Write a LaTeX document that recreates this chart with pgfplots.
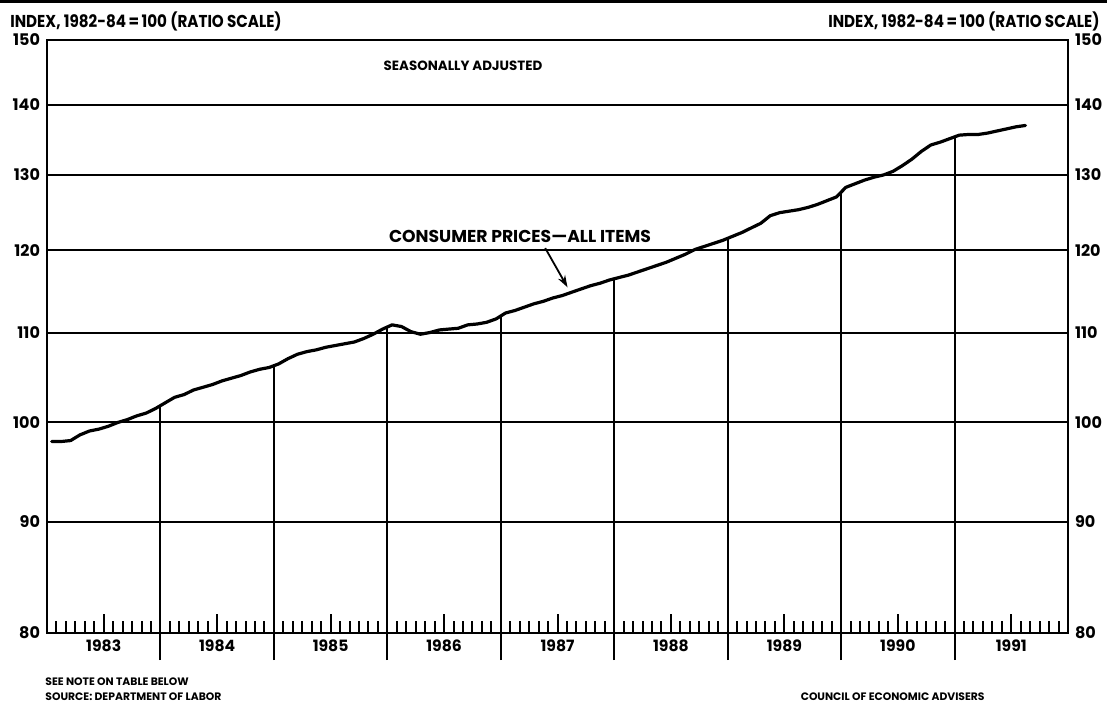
\documentclass[border=0pt]{standalone}
\usepackage{fontspec}
\setmainfont{Poppins}
\usepackage{pgfplots}
\pgfplotsset{compat=1.18}
\usetikzlibrary{arrows.meta}
\begin{document}
\begin{tikzpicture}[font=\bfseries]
\useasboundingbox (-23.5pt,-34.5pt) rectangle (530pt,316.5pt);
\fill[black] (-23.5pt,315pt) rectangle (530pt,316.5pt);
\begin{axis}[
  at={(0,0)}, anchor=south west,
  scale only axis, width=510.5pt, height=296.5pt,
  ymode=log, ymin=80, ymax=150, xmin=0, xmax=108,
  ytick={80,90,100,110,120,130,140,150},
  yticklabels={80,90,100,110,120,130,140,150},
  minor ytick={},
  ymajorgrids, grid style={black, line width=1pt},
  ytick style={draw=none},
  yticklabel style={font=\bfseries\fontsize{8}{9}\selectfont},
  xtick={6,18,...,102},
  xticklabels={1983,1984,1985,1986,1987,1988,1989,1990,1991},
  minor xtick={1,2,...,107},
  xticklabel style={font=\bfseries\fontsize{7.8}{9}\selectfont},
  tick align=inside, xtick pos=bottom,
  major tick length=9.5pt, minor tick length=6pt,
  xtick style={black, line width=1pt},
  minor tick style={black, line width=1pt},
  axis line style={line width=1.3pt},
  clip=false,
]
% drop lines at year boundaries
\addplot[black, line width=1pt] coordinates {(12,77.74) (12,101.8)};
\addplot[black, line width=1pt] coordinates {(24,77.74) (24,106.2)};
\addplot[black, line width=1pt] coordinates {(36,77.74) (36,110.65)};
\addplot[black, line width=1pt] coordinates {(48,77.74) (48,111.95)};
\addplot[black, line width=1pt] coordinates {(60,77.74) (60,116.45)};
\addplot[black, line width=1pt] coordinates {(72,77.74) (72,121.55)};
\addplot[black, line width=1pt] coordinates {(84,77.74) (84,127.6)};
\addplot[black, line width=1pt] coordinates {(96,77.74) (96,135.35)};
% CPI all items
\addplot[black, line width=1.6pt, line join=round, line cap=round] coordinates {
(0.5,98.0) (1.5,98.0) (2.5,98.1) (3.5,98.7) (4.5,99.1) (5.5,99.3)
(6.5,99.6) (7.5,100.0) (8.5,100.3) (9.5,100.7) (10.5,101.0) (11.5,101.5)
(12.5,102.1) (13.5,102.7) (14.5,103.0) (15.5,103.5) (16.5,103.8) (17.5,104.1)
(18.5,104.5) (19.5,104.8) (20.5,105.1) (21.5,105.5) (22.5,105.8) (23.5,106.0)
(24.5,106.4) (25.5,107.0) (26.5,107.5) (27.5,107.8) (28.5,108.0) (29.5,108.3)
(30.5,108.5) (31.5,108.7) (32.5,108.9) (33.5,109.3) (34.5,109.8) (35.5,110.4)
(36.5,110.9) (37.5,110.7) (38.5,110.1) (39.5,109.8) (40.5,110.0) (41.5,110.3)
(42.5,110.4) (43.5,110.5) (44.5,110.9) (45.5,111.0) (46.5,111.2) (47.5,111.6)
(48.5,112.3) (49.5,112.6) (50.5,113.0) (51.5,113.4) (52.5,113.7) (53.5,114.1)
(54.5,114.4) (55.5,114.8) (56.5,115.2) (57.5,115.6) (58.5,115.9) (59.5,116.3)
(60.5,116.6) (61.5,116.9) (62.5,117.3) (63.5,117.7) (64.5,118.1) (65.5,118.5)
(66.5,119.0) (67.5,119.5) (68.5,120.1) (69.5,120.5) (70.5,120.9) (71.5,121.3)
(72.5,121.8) (73.5,122.3) (74.5,122.9) (75.5,123.5) (76.5,124.5) (77.5,124.9)
(78.5,125.1) (79.5,125.3) (80.5,125.6) (81.5,126.0) (82.5,126.5) (83.5,127.0)
(84.5,128.3) (85.5,128.8) (86.5,129.3) (87.5,129.7) (88.5,130.0) (89.5,130.5)
(90.5,131.3) (91.5,132.2) (92.5,133.3) (93.5,134.2) (94.5,134.6) (95.5,135.1)
(96.5,135.6) (97.5,135.7) (98.5,135.7) (99.5,135.9) (100.5,136.2) (101.5,136.5)
(102.5,136.8) (103.5,137.0)
};
\draw[-{Stealth[length=6pt,width=4pt]}, line width=0.9pt] (axis cs:52.7,120.3) -- (axis cs:55.06,115.4);
\end{axis}
\begin{axis}[
  at={(0,0)}, anchor=south west,
  scale only axis, width=510.5pt, height=296.5pt,
  ymode=log, ymin=80, ymax=150, xmin=0, xmax=108,
  hide x axis, axis y line*=right, y axis line style={draw=none},
  ytick={80,90,100,110,120,130,140,150},
  yticklabels={80,90,100,110,120,130,140,150},
  minor ytick={},
  ytick style={draw=none},
  yticklabel style={font=\bfseries\fontsize{8}{9}\selectfont},
]
\end{axis}
\node[anchor=west, inner sep=0pt, font=\bfseries\fontsize{8.6}{10}\selectfont] at (-18.5pt,306pt) {\scalebox{0.88}[1]{INDEX, 1982-84\,=\,100 (RATIO SCALE)}};
\node[anchor=east, inner sep=0pt, font=\bfseries\fontsize{8.6}{10}\selectfont] at (526.5pt,306pt) {\scalebox{0.88}[1]{INDEX, 1982-84\,=\,100 (RATIO SCALE)}};
\node[font=\bfseries\fontsize{6.7}{7}\selectfont] at (208pt,283.5pt) {SEASONALLY ADJUSTED};
\node[font=\bfseries\fontsize{8.6}{9}\selectfont] at (236.5pt,198.5pt) {CONSUMER PRICES---ALL ITEMS};
\node[anchor=west, inner sep=0pt, font=\bfseries\fontsize{5.4}{6}\selectfont] at (-1pt,-24.5pt) {SEE NOTE ON TABLE BELOW};
\node[anchor=west, inner sep=0pt, font=\bfseries\fontsize{5.4}{6}\selectfont] at (-1pt,-31.8pt) {SOURCE: DEPARTMENT OF LABOR};
\node[anchor=east, inner sep=0pt, font=\bfseries\fontsize{5.4}{6}\selectfont] at (469pt,-31.8pt) {COUNCIL OF ECONOMIC ADVISERS};
\end{tikzpicture}
\end{document}
